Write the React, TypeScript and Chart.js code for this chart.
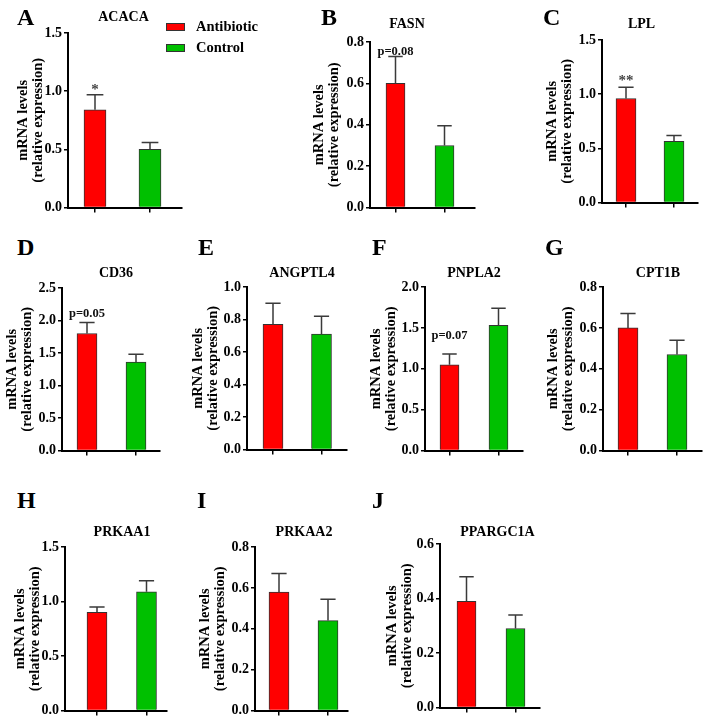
import React, { useEffect, useRef } from "react";
import { Chart, registerables } from "chart.js";

Chart.register(...registerables);

// ---------- data ----------
const genes = ["ACACA", "FASN", "LPL", "CD36", "ANGPTL4", "PNPLA2", "CPT1B", "PRKAA1", "PRKAA2", "PPARGC1A"];
const panelLetters = ["A", "B", "C", "D", "E", "F", "G", "H", "I", "J"];
const groups = ["Antibiotic", "Control"];
const antibioticMean = [0.84, 0.6, 0.96, 1.8, 0.77, 1.05, 0.6, 0.9, 0.58, 0.39];
const antibioticSem = [0.13, 0.13, 0.105, 0.17, 0.13, 0.13, 0.07, 0.05, 0.09, 0.09];
const controlMean = [0.5, 0.3, 0.565, 1.36, 0.71, 1.53, 0.47, 1.09, 0.44, 0.29];
const controlSem = [0.06, 0.095, 0.055, 0.12, 0.11, 0.21, 0.07, 0.1, 0.105, 0.05];
const yMax = [1.5, 0.8, 1.5, 2.5, 1.0, 2.0, 0.8, 1.5, 0.8, 0.6];
const yStep = [0.5, 0.2, 0.5, 0.5, 0.2, 0.5, 0.2, 0.5, 0.2, 0.2];
const significance = ["*", "p=0.08", "**", "p=0.05", "", "p=0.07", "", "", "", ""];
const yTitle = ["mRNA levels", "(relative expression)"];

// ---------- layout (pixels) ----------
const LAYOUT = [
  { axisX: 68, top: 33, zero: 210, right: 182, c1: 95, c2: 150, barW: 22, yTitleX: 23.5, letterX: 17, letterY: 25, titleX: 123.5, titleY: 22, lift: 1 },
  { axisX: 370, top: 42, zero: 210, right: 475, c1: 395.5, c2: 444.5, barW: 19, yTitleX: 319.5, letterX: 321, letterY: 25, titleX: 407, titleY: 29, lift: 1 },
  { axisX: 602, top: 40, zero: 205, right: 698, c1: 626, c2: 674, barW: 20, yTitleX: 552, letterX: 543, letterY: 25, titleX: 641.5, titleY: 29, lift: 2 },
  { axisX: 62, top: 288, zero: 453, right: 160, c1: 87, c2: 136, barW: 20, yTitleX: 12, letterX: 17, letterY: 255, titleX: 116, titleY: 278, lift: 5 },
  { axisX: 247, top: 287, zero: 452, right: 347, c1: 273, c2: 321.5, barW: 20, yTitleX: 198, letterX: 198, letterY: 255, titleX: 302, titleY: 278, lift: 3 },
  { axisX: 425, top: 287, zero: 453, right: 523, c1: 449.5, c2: 498.5, barW: 19, yTitleX: 376, letterX: 372, letterY: 255, titleX: 474, titleY: 278, lift: 15 },
  { axisX: 603, top: 287, zero: 453, right: 702, c1: 628, c2: 677, barW: 20, yTitleX: 553.5, letterX: 545, letterY: 255, titleX: 658, titleY: 278, lift: 3 },
  { axisX: 65, top: 547, zero: 713, right: 167, c1: 97, c2: 146.5, barW: 20, yTitleX: 20.5, letterX: 17, letterY: 508, titleX: 122, titleY: 537, lift: 3 },
  { axisX: 255, top: 547, zero: 713, right: 348, c1: 279, c2: 328, barW: 20, yTitleX: 205, letterX: 197, letterY: 508, titleX: 304, titleY: 537, lift: 3 },
  { axisX: 440, top: 544, zero: 710, right: 540, c1: 466.5, c2: 515.5, barW: 19, yTitleX: 392.5, letterX: 372, letterY: 508, titleX: 497.5, titleY: 537, lift: 3 },
];

const FONT = '"Liberation Serif", "Times New Roman", serif';
const COLORS = ["#ff0000", "#00c000"];
const TITLE_SIZE = 14.5;
const PAD_TOP = 12;
const X_AXIS_H = 8;

function Panel({ i }: { i: number }) {
  const ref = useRef<HTMLCanvasElement>(null);
  const L = LAYOUT[i];
  const canvasLeft = Math.round(L.yTitleX - TITLE_SIZE / 2);
  const yW = L.axisX - canvasLeft;
  const cw = L.right - canvasLeft + 2;
  const ch = L.zero - L.top + PAD_TOP + X_AXIS_H;
  const ctop = L.top - PAD_TOP;
  const d = L.c2 - L.c1;
  const xMin = -(L.c1 - L.axisX) / d;
  const xMax = 1 + (L.right - L.c2) / d;

  useEffect(() => {
    if (!ref.current) return;
    const means = [antibioticMean[i], controlMean[i]];
    const sems = [antibioticSem[i], controlSem[i]];
    const errPlugin = {
      id: "errBars" + i,
      afterDatasetsDraw(chart: any) {
        const meta = chart.getDatasetMeta(0);
        const ys = chart.scales.y;
        const ctx = chart.ctx;
        ctx.save();
        ctx.strokeStyle = "#3a3a3a";
        ctx.lineWidth = 1.5;
        meta.data.forEach((bar: any, k: number) => {
          const x = bar.x;
          const yTop = ys.getPixelForValue(means[k] + sems[k]);
          const w = L.barW * 0.38;
          ctx.beginPath();
          ctx.moveTo(x, bar.y);
          ctx.lineTo(x, yTop);
          ctx.moveTo(x - w, yTop);
          ctx.lineTo(x + w, yTop);
          ctx.stroke();
        });
        const label = significance[i];
        if (label) {
          const bar = meta.data[0];
          const yTop = ys.getPixelForValue(means[0] + sems[0]);
          const star = label.startsWith("*");
          ctx.fillStyle = star ? "#444" : "#111";
          ctx.font = `bold ${star ? 15 : 12.5}px ${FONT}`;
          ctx.textAlign = "center";
          ctx.textBaseline = "alphabetic";
          ctx.fillText(label, bar.x, yTop - L.lift);
        }
        ctx.restore();
      },
    };

    const chart = new Chart(ref.current, {
      type: "bar",
      data: {
        datasets: [
          {
            label: genes[i],
            data: [
              { x: 0, y: antibioticMean[i] },
              { x: 1, y: controlMean[i] },
            ],
            backgroundColor: COLORS,
            borderColor: "#333",
            borderWidth: 1,
            barThickness: L.barW,
          },
        ],
      } as any,
      options: {
        animation: false,
        responsive: false,
        maintainAspectRatio: false,
        layout: { padding: { top: PAD_TOP, right: 2, left: 0, bottom: 0 } },
        plugins: { legend: { display: false }, tooltip: { enabled: false } },
        scales: {
          x: {
            type: "linear",
            min: xMin,
            max: xMax,
            offset: false,
            afterBuildTicks: (s: any) => {
              s.ticks = [{ value: 0 }, { value: 1 }];
            },
            ticks: { display: false },
            grid: { display: true, offset: false, drawOnChartArea: false, drawTicks: true, tickLength: 5, color: "#000", lineWidth: 1.5 },
            border: { display: true, color: "#000", width: 2 },
            afterFit: (s: any) => {
              s.height = X_AXIS_H;
            },
          },
          y: {
            type: "linear",
            min: 0,
            max: yMax[i],
            ticks: {
              stepSize: yStep[i],
              color: "#000",
              padding: 2,
              font: { family: FONT, size: 14, weight: "bold" },
              callback: (v: any) => Number(v).toFixed(1),
            },
            grid: { display: true, drawOnChartArea: false, drawTicks: true, tickLength: 4, color: "#000", lineWidth: 1.5 },
            border: { display: true, color: "#000", width: 2 },
            title: {
              display: true,
              text: yTitle,
              color: "#000",
              padding: 0,
              font: { family: FONT, size: TITLE_SIZE, weight: "bold", lineHeight: 1 },
            },
            afterFit: (s: any) => {
              s.width = yW;
            },
          },
        },
      } as any,
      plugins: [errPlugin],
    });
    return () => chart.destroy();
  }, [i]);

  return (
    <>
      <canvas
        ref={ref}
        width={cw}
        height={ch}
        style={{ position: "absolute", left: canvasLeft, top: ctop, width: cw, height: ch }}
      />
      <div
        style={{
          position: "absolute",
          left: L.letterX,
          top: L.letterY - 20.1,
          fontFamily: FONT,
          fontWeight: "bold",
          fontSize: 24,
          lineHeight: 1,
          color: "#000",
        }}
      >
        {panelLetters[i]}
      </div>
      <div
        style={{
          position: "absolute",
          left: L.titleX,
          top: L.titleY - 11.7,
          transform: "translateX(-50%)",
          whiteSpace: "nowrap",
          fontFamily: FONT,
          fontWeight: "bold",
          fontSize: 14,
          lineHeight: 1,
          color: "#000",
        }}
      >
        {genes[i]}
      </div>
    </>
  );
}

function Legend() {
  const rows = [
    { y: 23, ty: 31 },
    { y: 44, ty: 52 },
  ];
  return (
    <>
      {groups.map((g, k) => (
        <React.Fragment key={g}>
          <div
            style={{
              position: "absolute",
              left: 166,
              top: rows[k].y,
              width: 17,
              height: 6,
              background: COLORS[k],
              border: "1px solid #333",
            }}
          />
          <div
            style={{
              position: "absolute",
              left: 196,
              top: rows[k].ty - 12.1,
              fontFamily: FONT,
              fontWeight: "bold",
              fontSize: 14.5,
              lineHeight: 1,
              whiteSpace: "nowrap",
              color: "#000",
            }}
          >
            {g}
          </div>
        </React.Fragment>
      ))}
    </>
  );
}

export default function App() {
  return (
    <div
      style={{
        position: "absolute",
        left: 0,
        top: 0,
        width: 709,
        height: 724,
        background: "#fff",
        overflow: "hidden",
      }}
    >
      {genes.map((_, i) => (
        <Panel key={i} i={i} />
      ))}
      <Legend />
    </div>
  );
}
